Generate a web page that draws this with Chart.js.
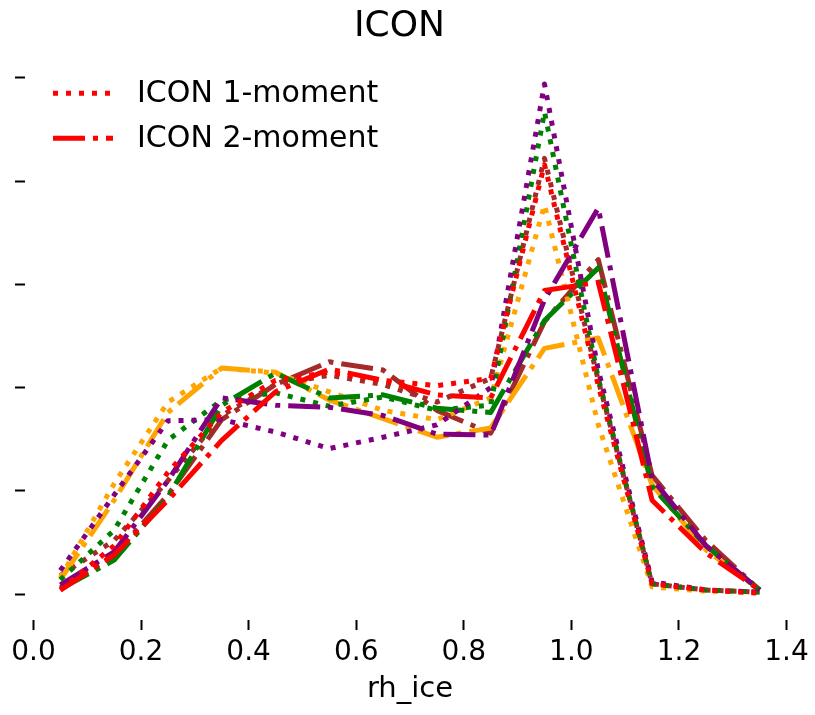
<!DOCTYPE html>
<html>
<head>
<meta charset="utf-8">
<script src="https://cdn.jsdelivr.net/npm/chart.js@4/dist/chart.umd.min.js"></script>
<style>
  html, body { margin: 0; padding: 0; background: #fff; }
  #wrap { width: 815px; height: 715px; }
</style>
</head>
<body>
<div id="wrap"><canvas id="icon" width="815" height="715"></canvas></div>
<script>
// bin centres of rh_ice
const rhIce = [0.05, 0.15, 0.25, 0.35, 0.45, 0.55, 0.65, 0.75, 0.85, 0.95, 1.05, 1.15, 1.25, 1.35]
const xTicks = [0.0, 0.2, 0.4, 0.6, 0.8, 1.0, 1.2, 1.4]
const yTicks = [0, 1, 2, 3, 4, 5]

// 1-moment runs (dotted)
const red1m    = [0.04, 0.47, 1.18, 1.76, 2.07, 2.15, 2.07, 2.02, 2.09, 4.16, 2.02, 0.10, 0.04, 0.01]
const purple1m = [0.23, 0.96, 1.68, 1.69, 1.57, 1.41, 1.52, 1.64, 2.00, 4.94, 2.17, 0.12, 0.04, 0.02]
const green1m  = [0.14, 0.62, 1.49, 1.88, 1.95, 1.82, 1.91, 1.78, 1.83, 4.67, 2.09, 0.10, 0.04, 0.02]
const orange1m = [0.16, 1.07, 1.86, 2.19, 2.14, 1.96, 1.78, 1.69, 1.90, 3.77, 1.64, 0.07, 0.03, 0.02]
const brown1m  = [0.18, 0.52, 1.10, 1.73, 2.03, 2.12, 2.03, 1.86, 2.09, 4.22, 2.07, 0.10, 0.04, 0.02]

// 2-moment runs (dash-dot)
const red2m    = [0.04, 0.38, 0.91, 1.49, 1.96, 2.18, 2.07, 1.93, 1.90, 2.94, 3.02, 0.91, 0.40, 0.04]
const purple2m = [0.09, 0.41, 1.10, 1.90, 1.83, 1.81, 1.73, 1.55, 1.54, 2.85, 3.74, 1.12, 0.47, 0.04]
const green2m  = [0.05, 0.33, 0.94, 1.83, 2.14, 1.90, 1.93, 1.80, 1.76, 2.65, 3.16, 1.04, 0.47, 0.04]
const orange2m = [0.14, 0.91, 1.76, 2.19, 2.15, 1.88, 1.70, 1.52, 1.61, 2.38, 2.48, 1.06, 0.43, 0.04]
const brown2m  = [0.06, 0.38, 0.96, 1.69, 2.03, 2.25, 2.17, 1.78, 1.56, 2.64, 3.24, 1.15, 0.52, 0.04]

const legendLabels = ['ICON 1-moment', 'ICON 2-moment']

const DOT = [5, 8]
const DASHDOT = [32, 8, 5, 8]

function pts(vals) {
    return rhIce.map((x, i) => ({x: x, y: vals[i]}))
}

function run(label, color, vals, dash) {
    return {
        label: label,
        data: pts(vals),
        borderColor: color,
        backgroundColor: color,
        borderWidth: 5,
        borderDash: dash,
        borderCapStyle: 'butt',
        borderJoinStyle: 'round',
        pointRadius: 0,
        tension: 0,
        fill: false
    }
}

// matplotlib-style legend sitting inside the upper-left of the plot
const innerLegend = {
    id: 'innerLegend',
    afterDraw(chart) {
        const ctx = chart.ctx
        const area = chart.chartArea
        const ds = chart.data.datasets
        ctx.save()
        ctx.font = "30px 'DejaVu Sans', sans-serif"
        ctx.textBaseline = 'middle'
        ctx.textAlign = 'left'
        legendLabels.forEach((lab, i) => {
            const y = area.top + 35 + i * 45
            const x0 = area.left + 28
            ctx.strokeStyle = ds[i].borderColor
            ctx.lineWidth = ds[i].borderWidth
            ctx.lineCap = 'butt'
            ctx.setLineDash(ds[i].borderDash)
            ctx.beginPath()
            ctx.moveTo(x0, y)
            ctx.lineTo(x0 + 60, y)
            ctx.stroke()
            ctx.setLineDash([])
            ctx.fillStyle = '#000'
            ctx.fillText(lab, x0 + 84, y + 1)
        })
        ctx.restore()
    }
}

Chart.defaults.font.family = "'DejaVu Sans', sans-serif"
Chart.defaults.color = '#000'

new Chart(document.getElementById('icon'), {
    type: 'line',
    data: {
        datasets: [
            run(legendLabels[0], 'red', red1m, DOT),
            run(legendLabels[1], 'red', red2m, DASHDOT),
            run('purple 1-moment', 'purple', purple1m, DOT),
            run('purple 2-moment', 'purple', purple2m, DASHDOT),
            run('green 1-moment', 'green', green1m, DOT),
            run('green 2-moment', 'green', green2m, DASHDOT),
            run('orange 1-moment', 'orange', orange1m, DOT),
            run('orange 2-moment', 'orange', orange2m, DASHDOT),
            run('brown 1-moment', 'brown', brown1m, DOT),
            run('brown 2-moment', 'brown', brown2m, DASHDOT)
        ]
    },
    options: {
        responsive: false,
        animation: false,
        layout: { padding: { left: 0, right: 16, top: 0, bottom: 0 } },
        plugins: {
            title: {
                display: true,
                text: 'ICON',
                font: { size: 36, weight: 'normal' },
                color: '#000',
                padding: { top: 5, bottom: 10 }
            },
            legend: { display: false },
            tooltip: { enabled: false }
        },
        scales: {
            x: {
                type: 'linear',
                min: -0.0157,
                max: 1.4157,
                afterBuildTicks: s => { s.ticks = xTicks.map(v => ({value: v})) },
                afterFit: s => { s.height = 95 },
                border: { display: false },
                grid: { drawOnChartArea: false, drawTicks: true, tickLength: 10, tickWidth: 2, tickColor: '#000' },
                ticks: {
                    padding: 6,
                    font: { size: 28 },
                    color: '#000',
                    maxRotation: 0,
                    callback: v => v.toFixed(1)
                },
                title: { display: true, text: 'rh_ice', font: { size: 29 }, color: '#000', padding: { top: 0, bottom: 8 } }
            },
            y: {
                type: 'linear',
                min: -0.25,
                max: 5.19,
                afterBuildTicks: s => { s.ticks = yTicks.map(v => ({value: v})) },
                afterFit: s => { s.width = 25 },
                border: { display: false },
                grid: { drawOnChartArea: false, drawTicks: true, tickLength: 10, tickWidth: 2, tickColor: '#000' },
                ticks: { display: false }
            }
        }
    },
    plugins: [innerLegend]
})
</script>
</body>
</html>
